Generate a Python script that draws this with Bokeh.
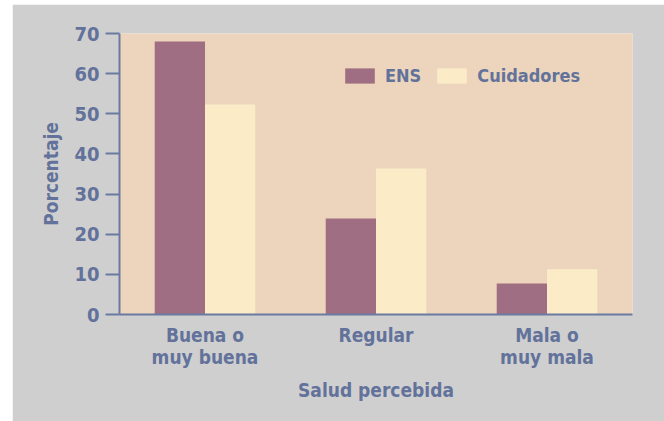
from bokeh.plotting import figure
from bokeh.models import FactorRange, Range1d, FixedTicker, Legend, LegendItem
from bokeh.transform import dodge
from bokeh.models import ColumnDataSource
from bokeh.embed import file_html
from bokeh.resources import INLINE

categories = ["Buena o\nmuy buena", "Regular", "Mala o\nmuy mala"]
ens = [68.0, 23.9, 7.7]
cuidadores = [52.3, 36.4, 11.3]
series_names = ["ENS", "Cuidadores"]
y_ticks = [0, 10, 20, 30, 40, 50, 60, 70]

FONT = "DejaVu Sans Condensed"
TXT = "#62729b"
AX = "#6a7aa2"

src = ColumnDataSource(dict(cat=categories, ens=ens, cuid=cuidadores))

p = figure(
    x_range=FactorRange(*categories, range_padding=0),
    y_range=Range1d(0, 70),
    width=652, height=417,
    output_backend="svg", toolbar_location=None,
    styles={"margin-left": "12px", "margin-top": "4px"},
)
p.min_border_left = 107
p.min_border_right = 32
p.min_border_top = 29
p.min_border_bottom = 107
p.background_fill_color = "#ecd5bc"
p.border_fill_color = "#cfcfcf"
p.outline_line_color = None
p.grid.visible = False

r1 = p.vbar(x=dodge("cat", -0.147, range=p.x_range), top="ens", width=0.294,
            source=src, fill_color="#a06e82", line_color=None)
r2 = p.vbar(x=dodge("cat", 0.147, range=p.x_range), top="cuid", width=0.294,
            source=src, fill_color="#fcebc7", line_color=None)

# y axis
ya = p.yaxis[0]
ya.ticker = FixedTicker(ticks=y_ticks)
ya.minor_tick_line_color = None
ya.major_tick_in = 0
ya.major_tick_out = 14
ya.major_tick_line_color = AX
ya.major_tick_line_width = 2
ya.axis_line_color = AX
ya.axis_line_width = 2
ya.major_label_text_font = FONT
ya.major_label_text_font_style = "bold"
ya.major_label_text_font_size = "20px"
ya.major_label_text_color = TXT
ya.major_label_standoff = 6
ya.axis_label = "Porcentaje"
ya.axis_label_text_font = FONT
ya.axis_label_text_font_style = "bold"
ya.axis_label_text_font_size = "19px"
ya.axis_label_text_color = TXT
ya.axis_label_standoff = 9

# x axis
xa = p.xaxis[0]
xa.major_tick_line_color = None
xa.minor_tick_line_color = None
xa.axis_line_color = AX
xa.axis_line_width = 2
xa.major_label_text_font = FONT
xa.major_label_text_font_style = "bold"
xa.major_label_text_font_size = "19px"
xa.major_label_text_line_height = 1.0
xa.major_label_text_color = TXT
xa.major_label_standoff = 3
xa.axis_label = "Salud percebida"
xa.axis_label_text_font = FONT
xa.axis_label_text_font_style = "bold"
xa.axis_label_text_font_size = "19px"
xa.axis_label_text_color = TXT
xa.axis_label_standoff = 8

legend = Legend(
    items=[LegendItem(label=series_names[0], renderers=[r1]),
           LegendItem(label=series_names[1], renderers=[r2])],
    orientation="horizontal",
    location=(222, 228),
    background_fill_alpha=0,
    border_line_color=None,
    padding=0, margin=0, spacing=12,
    glyph_width=37, glyph_height=19,
    label_standoff=7,
    label_text_font=FONT,
    label_text_font_style="bold",
    label_text_font_size="18px",
    label_text_color=TXT,
)
p.add_layout(legend)

open("out.html", "w").write(file_html(p, INLINE))
